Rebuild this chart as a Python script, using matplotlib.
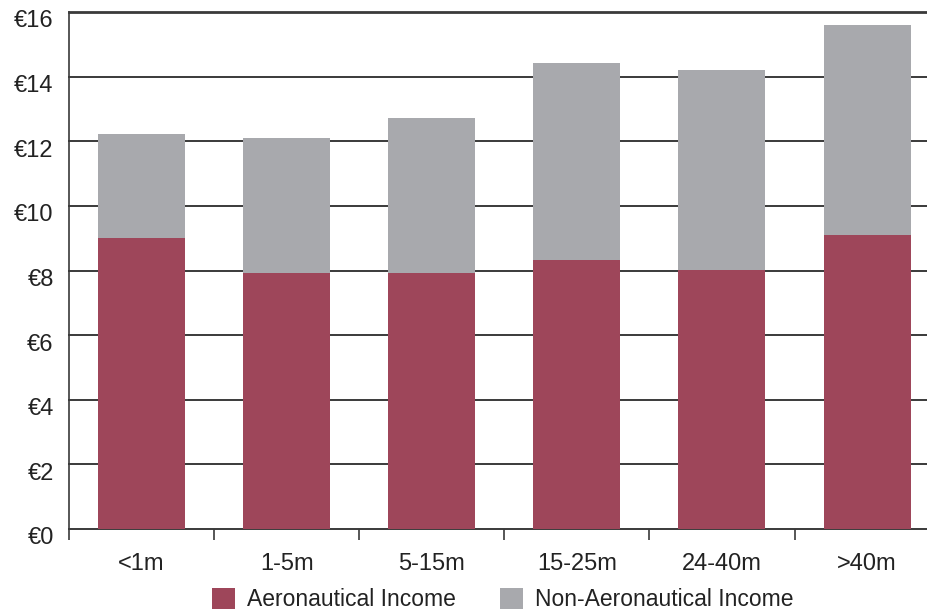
import matplotlib.pyplot as plt
import matplotlib.transforms as mtransforms
import numpy as np

# Revenue per passenger by airport size band
categories = ["<1m", "1-5m", "5-15m", "15-25m", "24-40m", ">40m"]
aero = [9.0, 7.92, 7.92, 8.33, 8.02, 9.10]
total = [12.22, 12.10, 12.72, 14.42, 14.21, 15.60]
non_aero = [t - a for t, a in zip(total, aero)]

y_ticks = [0, 2, 4, 6, 8, 10, 12, 14, 16]
y_labels = ["€0", "€2", "€4", "€6", "€8", "€10", "€12", "€14", "€16"]

AERO_COLOR = "#9E465A"
NON_AERO_COLOR = "#A8A9AD"
LINE_COLOR = "#3a3a3a"
TEXT_COLOR = "#222222"

plt.rcParams["font.family"] = ["Liberation Sans", "DejaVu Sans"]

fig = plt.figure(figsize=(9.28, 6.10), dpi=100)
ax = fig.add_axes([69 / 928, 1 - 529 / 610, 1 - 69 / 928, (529 - 12) / 610])

x = np.arange(len(categories))
ax.bar(x, aero, width=0.6, color=AERO_COLOR, label="Aeronautical Income", zorder=3)
ax.bar(x, non_aero, bottom=aero, width=0.6, color=NON_AERO_COLOR,
       label="Non-Aeronautical Income", zorder=3)

# horizontal rules at every tick, bars sit on top of them
for yv in y_ticks:
    lw = 2.0 if yv == 16 else 1.4
    ax.axhline(yv, color=LINE_COLOR, linewidth=lw, zorder=1, clip_on=False)

ax.set_ylim(0, 16)
ax.set_xlim(-0.5, 5.42)
ax.set_yticks(y_ticks)
ax.set_yticklabels(y_labels, fontsize=17, color=TEXT_COLOR)
ax.tick_params(axis="y", length=0, pad=11)

# y labels sit a little below their rules
shift = mtransforms.ScaledTranslation(0, -5 / 72, fig.dpi_scale_trans)
for lbl in ax.get_yticklabels():
    lbl.set_transform(lbl.get_transform() + shift)

# category boundaries as tick marks, names centred in between
ax.set_xticks(np.arange(len(categories)) - 0.5)
ax.set_xticklabels([])
ax.set_xticks(x, minor=True)
ax.set_xticklabels(categories, minor=True, fontsize=17, color=TEXT_COLOR)
ax.tick_params(axis="x", which="major", length=8, width=1.2, color=LINE_COLOR)
ax.tick_params(axis="x", which="minor", length=0, pad=17)

for side in ["top", "right", "bottom"]:
    ax.spines[side].set_visible(False)
ax.spines["left"].set_color(LINE_COLOR)
ax.spines["left"].set_linewidth(1.2)

ax.legend(loc="center", bbox_to_anchor=(0.505, -0.137), ncol=2, frameon=False,
          fontsize=16.5, handlelength=1.0, handleheight=1.0, handletextpad=0.55,
          columnspacing=1.9, labelcolor=TEXT_COLOR)

fig.savefig("out.png", dpi=100)
